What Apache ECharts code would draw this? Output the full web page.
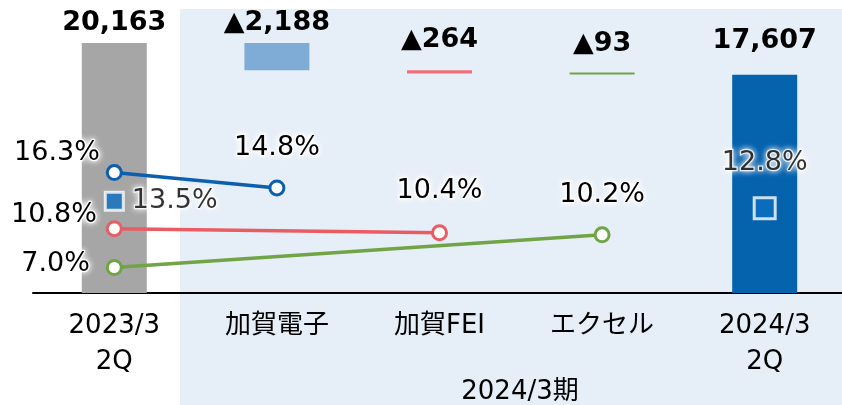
<!DOCTYPE html>
<html>
<head>
<meta charset="utf-8">
<script src="https://cdn.jsdelivr.net/npm/echarts@6/dist/echarts.min.js"></script>
<style>
html, body { margin: 0; padding: 0; background: #fff; }
#main { width: 842px; height: 405px; }
</style>
</head>
<body>
<div id="main"></div>
<script>
// カテゴリ
var categories = ['2023/3\n2Q', '加賀電子', '加賀FEI', 'エクセル', '2024/3\n2Q'];
// 棒の値（増減は減少分）
var barValues = [20163, 2188, 264, 93, 17607];
var barLabels = ['20,163', '▲2,188', '▲264', '▲93', '17,607'];
var barColors = ['#A6A6A6', '#7FACD6', '#EE6F77', '#70A24A', '#0562AD'];
// 利益率（%）
var rateKaga = [16.3, 14.8, null, null, null];
var rateFei = [10.8, null, 10.4, null, null];
var rateExcel = [7.0, null, null, 10.2, null];
var rateTotal = [13.5, null, null, null, 12.8];
var groupLabel = '2024/3期';

var FONT = "'DejaVu Sans', 'Noto Sans CJK JP', sans-serif";

// 滝グラフの土台
var base = [];
var level = barValues[0];
for (var i = 0; i < barValues.length; i++) {
	if (i === 0 || i === barValues.length - 1) {
		base.push(0);
	} else {
		level -= barValues[i];
		base.push(level);
	}
}

var labelDist = [7, 7, 17, 15, 20];
var barData = barValues.map(function (v, i) {
	return {
		value: v,
		itemStyle: { color: barColors[i] },
		label: { show: true, position: 'top', distance: labelDist[i], formatter: barLabels[i] }
	};
});

var pctText = {
	fontFamily: FONT,
	fontSize: 27,
	color: '#000',
	textBorderColor: '#fff',
	textBorderWidth: 2.5,
	textShadowColor: '#fff',
	textShadowBlur: 6
};

function pctLabel(pos, dist, off) {
	return Object.assign({
		show: true,
		position: pos,
		distance: dist,
		offset: off || [0, 0],
		formatter: function (p) { return p.value.toFixed(1) + '%'; }
	}, pctText);
}

function lineData(arr, labels, sizes) {
	return arr.map(function (v, i) {
		if (v === null) return null;
		var d = { value: v, label: labels[i] };
		if (sizes) d.symbolSize = sizes[i];
		return d;
	});
}

function lineSeries(name, color, data) {
	return {
		name: name,
		type: 'line',
		yAxisIndex: 1,
		connectNulls: true,
		symbol: 'circle',
		symbolSize: 14,
		lineStyle: { color: color, width: 3.5 },
		itemStyle: { color: '#fff', borderColor: color, borderWidth: 3 },
		z: 5,
		data: data
	};
}

option = {
	animation: false,
	graphic: [
		{
			type: 'rect',
			z: -10,
			shape: { x: 180, y: 9, width: 662, height: 396 },
			style: { fill: '#E6EEF8' }
		},
		{
			type: 'text',
			z: 10,
			x: 520,
			y: 392,
			style: {
				text: groupLabel,
				fontFamily: FONT,
				fontSize: 26,
				fill: '#000',
				align: 'center',
				verticalAlign: 'middle'
			}
		}
	],
	grid: {
		left: 33,
		width: 813,
		top: 43,
		bottom: 112,
		outerBoundsMode: 'none'
	},
	xAxis: {
		type: 'category',
		data: categories,
		axisLine: { lineStyle: { color: '#000', width: 2 } },
		axisTick: { show: false },
		axisLabel: {
			color: '#000',
			fontFamily: FONT,
			fontSize: 26,
			lineHeight: 36,
			margin: 15,
			interval: 0
		}
	},
	yAxis: [
		{ type: 'value', min: 0, max: barValues[0], show: false, splitLine: { show: false } },
		{ type: 'value', min: 4.5, max: 29, show: false, splitLine: { show: false } }
	],
	series: [
		{
			type: 'bar',
			stack: 'wf',
			barWidth: 65,
			itemStyle: { color: 'transparent' },
			data: base
		},
		{
			type: 'bar',
			stack: 'wf',
			barWidth: 65,
			barMinHeight: 2,
			label: {
				fontFamily: FONT,
				fontSize: 27,
				fontWeight: 'bold',
				color: '#000'
			},
			data: barData
		},
		lineSeries('加賀電子', '#0B5FAE', lineData(rateKaga, [
			pctLabel('left', 6, [0, -20]), pctLabel('top', 18)
		])),
		lineSeries('加賀FEI', '#EA5C64', lineData(rateFei, [
			pctLabel('left', 9, [0, -14]), null, pctLabel('top', 20)
		])),
		lineSeries('エクセル', '#70A445', lineData(rateExcel, [
			pctLabel('left', 16, [0, -4]), null, null, pctLabel('top', 18)
		])),
		{
			name: '合計',
			type: 'scatter',
			yAxisIndex: 1,
			symbol: 'rect',
			symbolSize: 18,
			itemStyle: { color: '#0B6FC0', borderColor: '#fff', borderWidth: 3 },
			z: 6,
			data: lineData(rateTotal, [
				pctLabel('right', 7), null, null, null, pctLabel('top', 20)
			], [18, null, null, null, 21])
		}
	]
};

var myChart = echarts.init(document.getElementById('main'));
myChart.setOption(option);
</script>
</body>
</html>
